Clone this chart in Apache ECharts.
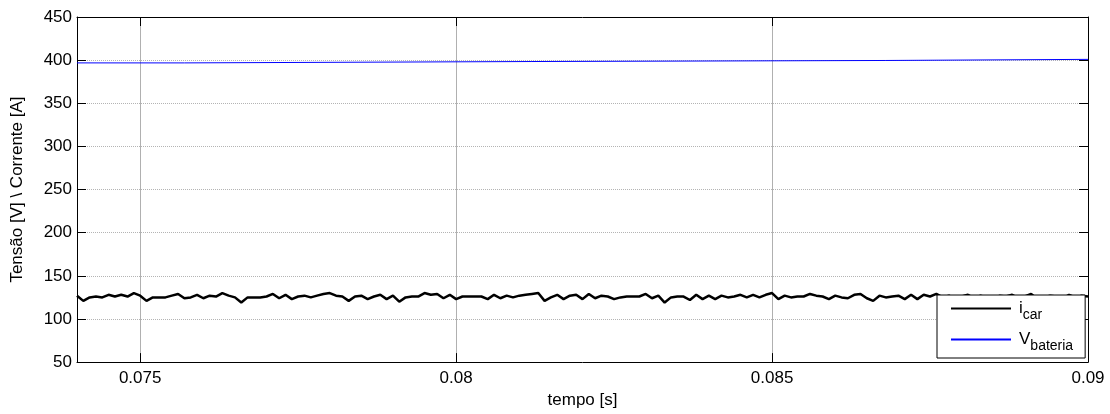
<!DOCTYPE html>
<html>
<head>
<meta charset="utf-8">
<script src="https://cdn.jsdelivr.net/npm/echarts@6/dist/echarts.min.js"></script>
<style>
  html, body { margin: 0; padding: 0; background: #fff; }
  #chart { width: 1110px; height: 414px; }
</style>
</head>
<body>
<div id="chart"></div>
<script>
// eixo do tempo: amostras a cada 0.1 ms entre 0.074 e 0.09 s
const tStart = 0.074
const tStep = 0.0001

// i_car [A]
const iCar = [
  127, 121, 125, 126, 125, 128, 126, 128, 126, 130,
  127, 121, 125, 125, 125, 127, 129, 124, 125, 128,
  124, 127, 126, 130, 127, 125, 119, 125, 125, 125,
  126, 129, 124, 128, 123, 126, 127, 125, 127, 129,
  130, 127, 126, 121, 126, 127, 123, 126, 128, 123,
  127, 120, 125, 126, 126, 130, 128, 129, 124, 128,
  123, 126, 126, 126, 126, 123, 128, 124, 127, 125,
  127, 128, 129, 130, 121, 125, 128, 123, 127, 128,
  123, 129, 124, 127, 126, 123, 125, 126, 126, 126,
  129, 124, 127, 119, 125, 126, 126, 122, 128, 123,
  127, 123, 127, 125, 126, 128, 125, 128, 125, 128,
  130, 123, 127, 125, 126, 126, 129, 127, 126, 123,
  127, 125, 124, 128, 129, 124, 121, 127, 125, 126,
  127, 123, 128, 123, 128, 126, 129, 125, 127, 123,
  126, 128, 124, 127, 125, 122, 127, 126, 128, 124,
  126, 129, 123, 125, 127, 126, 124, 128, 125, 127,
  126
]

// V_bateria [V]: degraus
const vBatTime = [0.074, 0.0757, 0.0812, 0.0868, 0.09]
const vBatValue = [396.8, 398.4, 399.6, 400.9, 400.9]

// ticks
const xTicks = [0.075, 0.08, 0.085, 0.09]

const font = 'Liberation Sans, Arial, sans-serif'

const chart = echarts.init(document.getElementById('chart'))

const axisLineStyle = { color: '#000', width: 1 }

const option = {
  animation: false,
  backgroundColor: '#fff',
  textStyle: { fontFamily: font },
  grid: { left: 77, right: 22, top: 17, bottom: 48 },
  legend: {
    orient: 'vertical',
    left: 937,
    top: 295,
    z: 20,
    zlevel: 1, // camada própria, por cima das linhas
    itemWidth: 60,
    itemHeight: 14,
    itemGap: 9,
    padding: [5, 12, 5, 13],
    backgroundColor: '#fff',
    borderColor: '#000',
    borderWidth: 1,
    borderRadius: 0,
    // sem marcador, só a linha
    itemStyle: { opacity: 0, color: 'rgba(0,0,0,0)', borderWidth: 0 },
    formatter: (name) => (name === 'icar' ? '{m|i}{s|car}' : '{m|V}{s|bateria}'),
    textStyle: {
      color: '#000',
      fontFamily: font,
      rich: {
        m: { fontSize: 17, fontFamily: font, color: '#000', padding: [0, 0, 0, 3] },
        s: { fontSize: 14, fontFamily: font, color: '#000', padding: [13, 0, 0, 0] },
      },
    },
  },
  xAxis: [
    {
      type: 'value',
      position: 'bottom',
      min: 0.074,
      max: 0.09,
      name: 'tempo [s]',
      nameLocation: 'middle',
      nameGap: 29,
      nameTextStyle: { fontSize: 17, color: '#000', fontFamily: font },
      axisLine: { show: true, onZero: false, lineStyle: axisLineStyle },
      axisTick: { show: true, inside: true, length: 9, customValues: xTicks, lineStyle: axisLineStyle },
      axisLabel: {
        customValues: xTicks,
        margin: 8,
        fontSize: 17,
        color: '#000',
        fontFamily: font,
        formatter: (v) => String(+(+v).toFixed(3)),
      },
      splitLine: { show: true, lineStyle: { color: '#b0b0b0', width: 1 } },
    },
    {
      type: 'value',
      position: 'top',
      min: 0.074,
      max: 0.09,
      axisLine: { show: true, onZero: false, lineStyle: axisLineStyle },
      axisTick: { show: true, inside: true, length: 9, customValues: xTicks, lineStyle: axisLineStyle },
      axisLabel: { show: false },
      splitLine: { show: false },
    },
  ],
  yAxis: [
    {
      type: 'value',
      position: 'left',
      min: 50,
      max: 450,
      interval: 50,
      name: 'Tensão [V] \\ Corrente [A]',
      nameLocation: 'middle',
      nameGap: 51,
      nameTextStyle: { fontSize: 17, color: '#000', fontFamily: font },
      axisLine: { show: true, onZero: false, lineStyle: axisLineStyle },
      axisTick: { show: true, inside: true, length: 9, lineStyle: axisLineStyle },
      axisLabel: { margin: 5, fontSize: 17, color: '#000', fontFamily: font },
      splitLine: { show: true, lineStyle: { color: '#b4b4b4', width: 1, type: [1, 1] } },
    },
    {
      type: 'value',
      position: 'right',
      min: 50,
      max: 450,
      interval: 50,
      axisLine: { show: true, onZero: false, lineStyle: axisLineStyle },
      axisTick: { show: true, inside: true, length: 9, lineStyle: axisLineStyle },
      axisLabel: { show: false },
      splitLine: { show: false },
    },
  ],
  series: [
    {
      name: 'icar',
      type: 'line',
      showSymbol: false,
      symbol: 'none',
      data: iCar.map((v, i) => [tStart + i * tStep, v]),
      lineStyle: { color: '#000', width: 2.5 },
      itemStyle: { color: '#000' },
      z: 2,
    },
    {
      name: 'Vbateria',
      type: 'line',
      step: 'end',
      showSymbol: false,
      symbol: 'none',
      data: vBatTime.map((t, i) => [t, vBatValue[i]]),
      lineStyle: { color: '#0000ff', width: 1 },
      itemStyle: { color: '#0000ff' },
      z: 2,
    },
  ],
}

chart.setOption(option)
</script>
</body>
</html>
